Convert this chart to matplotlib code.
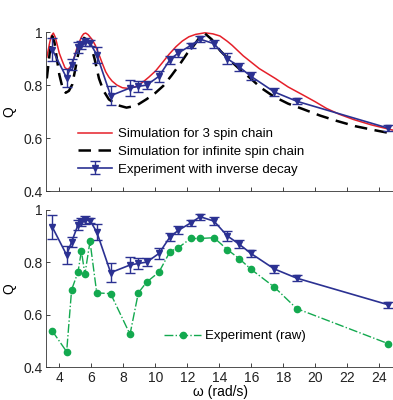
import numpy as np
import matplotlib.pyplot as plt

plt.rcParams['font.family'] = ['Liberation Sans', 'DejaVu Sans']
plt.rcParams['font.size'] = 10

# measured points (same frequencies for both experiment series)
omega = [3.56, 4.46, 4.77, 5.17, 5.38, 5.6, 5.92, 6.34, 7.21, 8.42, 8.94, 9.46,
         10.23, 10.92, 11.44, 12.21, 12.8, 13.67, 14.5, 15.25, 15.98, 17.44, 18.84, 24.54]
q_inverse = [0.934, 0.827, 0.877, 0.942, 0.952, 0.962, 0.958, 0.915, 0.76, 0.789, 0.795, 0.8,
             0.833, 0.896, 0.921, 0.949, 0.973, 0.956, 0.9, 0.868, 0.833, 0.774, 0.739, 0.638]
q_err = [0.045, 0.035, 0.02, 0.02, 0.015, 0.015, 0.01, 0.03, 0.035, 0.03, 0.02, 0.015,
         0.02, 0.015, 0.015, 0.01, 0.012, 0.015, 0.02, 0.015, 0.015, 0.015, 0.012, 0.012]
q_raw = [0.538, 0.459, 0.695, 0.762, 0.843, 0.754, 0.879, 0.683, 0.68, 0.525, 0.683, 0.724,
         0.762, 0.84, 0.855, 0.89, 0.89, 0.893, 0.848, 0.813, 0.773, 0.705, 0.623, 0.49]

# simulation, 3 spin chain
w_sim3 = [3.22, 3.4, 3.5, 3.63, 3.75, 3.87, 4.0, 4.19, 4.35, 4.5, 4.65, 4.8, 4.92, 5.08,
          5.23, 5.4, 5.52, 5.65, 5.8, 6.06, 6.25, 6.48, 6.7, 6.9, 7.1, 7.3, 7.6, 7.94,
          8.36, 8.8, 9.2, 9.6, 10.03, 10.45, 10.86, 11.3, 11.69, 12.1, 12.52, 13.1, 13.6,
          14.04, 14.5, 14.8, 15.5, 16.5, 17.5, 18.3, 19.25, 20.0, 20.7, 21.5, 22.4, 23.5, 25.0]
q_sim3 = [0.905, 0.96, 0.985, 0.996, 0.98, 0.952, 0.92, 0.89, 0.866, 0.859, 0.865, 0.882,
          0.902, 0.935, 0.959, 0.983, 0.993, 0.996, 0.99, 0.971, 0.95, 0.915, 0.88, 0.85,
          0.83, 0.815, 0.8, 0.79, 0.787, 0.795, 0.81, 0.83, 0.854, 0.885, 0.916, 0.945,
          0.966, 0.982, 0.991, 0.997, 0.993, 0.985, 0.965, 0.95, 0.91, 0.862, 0.825, 0.793,
          0.762, 0.737, 0.712, 0.69, 0.67, 0.65, 0.628]

# simulation, infinite spin chain
w_siminf = [3.22, 3.4, 3.56, 3.7, 3.87, 4.0, 4.2, 4.4, 4.6, 4.81, 5.0, 5.13, 5.3, 5.45,
            5.54, 5.7, 5.96, 6.2, 6.48, 6.75, 7.1, 7.6, 8.2, 8.8, 9.46, 10.0, 10.5, 11.0,
            11.54, 12.0, 12.38, 12.75, 13.05, 13.53, 14.05, 14.46, 15.2, 15.9, 16.6, 17.4,
            18.3, 19.25, 20.3, 21.34, 22.5, 23.7, 25.0]
q_siminf = [0.825, 0.92, 0.984, 0.96, 0.89, 0.84, 0.79, 0.771, 0.778, 0.802, 0.86, 0.902,
            0.95, 0.972, 0.978, 0.972, 0.952, 0.9, 0.825, 0.78, 0.746, 0.725, 0.715, 0.722,
            0.747, 0.77, 0.797, 0.835, 0.879, 0.92, 0.947, 0.978, 0.997, 0.972, 0.93, 0.905,
            0.864, 0.828, 0.79, 0.757, 0.73, 0.709, 0.685, 0.665, 0.645, 0.63, 0.615]

xticks = [4, 6, 8, 10, 12, 14, 16, 18, 20, 22, 24]
yticks = [0.4, 0.6, 0.8, 1.0]
ytick_labels = ['0.4', '0.6', '0.8', '1']

RED = '#e5202a'
BLUE = '#2b3192'
GREEN = '#13a94f'

fig = plt.figure(figsize=(3.93, 4.0), dpi=100)
ax1 = fig.add_axes([0.1183, 0.522, 0.8875, 0.398])
ax2 = fig.add_axes([0.1183, 0.082, 0.8875, 0.394])

for ax in (ax1, ax2):
    ax.set_xlim(3.2, 25)
    ax.set_ylim(0.4, 1.0)
    ax.set_xticks(xticks)
    ax.set_yticks(yticks)
    ax.set_yticklabels(ytick_labels)
    ax.tick_params(direction='in', length=3, width=0.6, colors='#222222',
                   labelcolor='#222222', pad=3)
    for s in ('top', 'right'):
        ax.spines[s].set_visible(False)
    for s in ('left', 'bottom'):
        ax.spines[s].set_linewidth(0.6)
        ax.spines[s].set_color('#333333')
    ax.set_ylabel('Q')
    ax.yaxis.set_label_coords(-0.085, 0.5)
    ax.patch.set_alpha(0)

ax1.set_xticklabels([])

# top panel
ax1.plot(w_sim3, q_sim3, color=RED, lw=1.1, label='Simulation for 3 spin chain')
ax1.plot(w_siminf, q_siminf, color='black', lw=1.8, ls=(0, (5, 3)),
         label='Simulation for infinite spin chain')
ax1.errorbar(omega, q_inverse, yerr=q_err, color=BLUE, lw=1.2, marker='v', ms=5,
             capsize=3.5, elinewidth=1.0, capthick=1.0,
             label='Experiment with inverse decay')
ax1.legend(loc='upper left', bbox_to_anchor=(0.055, 0.47), frameon=False,
           handlelength=2.6, handletextpad=0.5, labelspacing=0.4, fontsize=9.5)

# bottom panel
ax2.errorbar(omega, q_inverse, yerr=q_err, color=BLUE, lw=1.2, marker='v', ms=5,
             capsize=3.5, elinewidth=1.0, capthick=1.0)
ax2.plot(omega, q_raw, color=GREEN, lw=1.0, ls='-.', marker='o', ms=4.5,
         label='Experiment (raw)')
ax2.legend(loc='upper left', bbox_to_anchor=(0.304, 0.31), frameon=False,
           handlelength=2.8, handletextpad=0.3, fontsize=9.5)
ax2.set_xlabel('\u03c9 (rad/s)', labelpad=0)

fig.savefig('out.png', dpi=100)
